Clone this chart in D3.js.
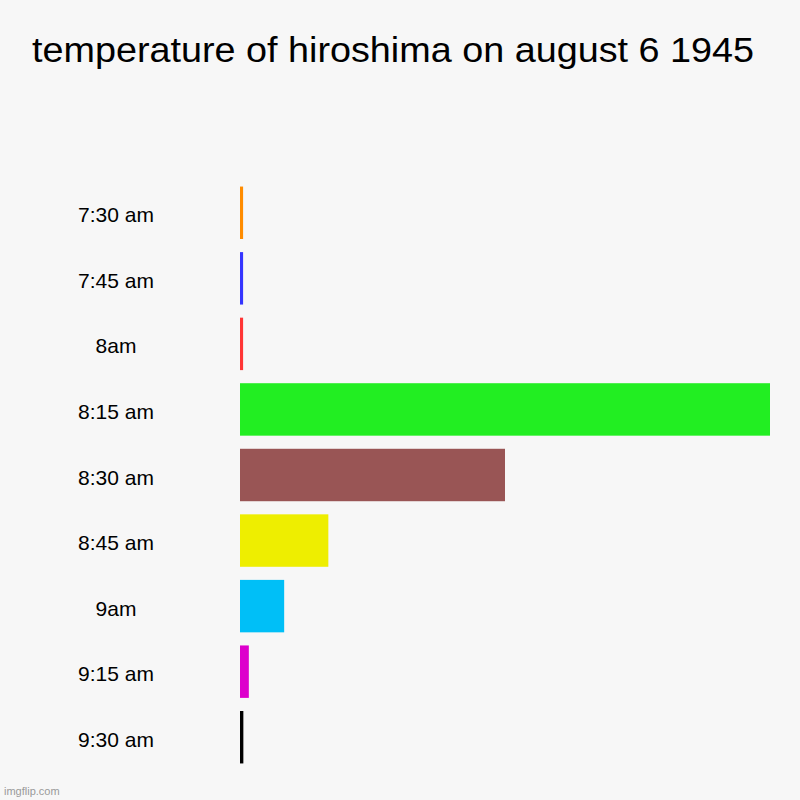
<!DOCTYPE html>
<html>
<head>
<meta charset="utf-8">
<script src="https://cdn.jsdelivr.net/npm/d3@7"></script>
<style>
  body { margin: 0; background: #f7f7f7; }
  svg { display: block; }
</style>
</head>
<body>
<div id="chart"></div>
<script>
// Data ---------------------------------------------------------------------------------------------------------------
const times = ["7:30 am", "7:45 am", "8am", "8:15 am", "8:30 am", "8:45 am", "9am", "9:15 am", "9:30 am"];
const temperatures = [35, 35, 35, 6000, 3000, 1000, 500, 100, 38];
const barColors = ["#ff8c00", "#3535ff", "#ff3535", "#22ee22", "#995555", "#eeee00", "#00bff7", "#dd00cc", "#000000"];

// Canvas -------------------------------------------------------------------------------------------------------------
const canvasWidth = 800;
const canvasHeight = 800;

const topPadding = 180;
const rightPadding = 30;
const bottomPadding = 30;
const leftPadding = 240;

const svg = d3.select("#chart")
  .append("svg")
  .attr("width", canvasWidth)
  .attr("height", canvasHeight);

svg.append("rect")
  .attr("width", canvasWidth)
  .attr("height", canvasHeight)
  .attr("fill", "#f7f7f7");

const fontFamily = "Liberation Sans, Arial, Helvetica, sans-serif";

// Title
svg.append("text")
  .text("temperature of hiroshima on august 6 1945")
  .attr("x", 393)
  .attr("y", 62)
  .attr("text-anchor", "middle")
  .attr("textLength", 722)
  .attr("lengthAdjust", "spacingAndGlyphs")
  .style("font-family", fontFamily)
  .style("font-size", "35px")
  .style("fill", "#000");

// Scales -------------------------------------------------------------------------------------------------------------
const yScale = d3.scaleBand()
  .domain(times)
  .range([topPadding, canvasHeight - bottomPadding])
  .paddingInner(0.2)
  .paddingOuter(0.1);

const xScale = d3.scaleLinear()
  .domain([0, d3.max(temperatures)])
  .range([leftPadding, canvasWidth - rightPadding]);

// Category labels
const yAxis = svg.append("g")
  .attr("transform", "translate(116, 2)")
  .call(d3.axisLeft(yScale).tickSize(0).tickPadding(0));
yAxis.select(".domain").remove();
yAxis.selectAll("text")
  .attr("text-anchor", "middle")
  .attr("dy", "0.36em")
  .style("font-family", fontFamily)
  .style("font-size", "21px")
  .style("fill", "#000");

// Bars
svg.append("g")
  .selectAll("rect")
  .data(times)
  .join("rect")
  .attr("x", xScale(0))
  .attr("y", d => yScale(d))
  .attr("width", (d, i) => Math.max(0, xScale(temperatures[i]) - xScale(0)))
  .attr("height", yScale.bandwidth())
  .attr("fill", (d, i) => barColors[i]);

// Watermark
svg.append("text")
  .text("imgflip.com")
  .attr("x", 4)
  .attr("y", 795)
  .style("font-family", fontFamily)
  .style("font-size", "11px")
  .style("fill", "#9a9a9a");
</script>
</body>
</html>
